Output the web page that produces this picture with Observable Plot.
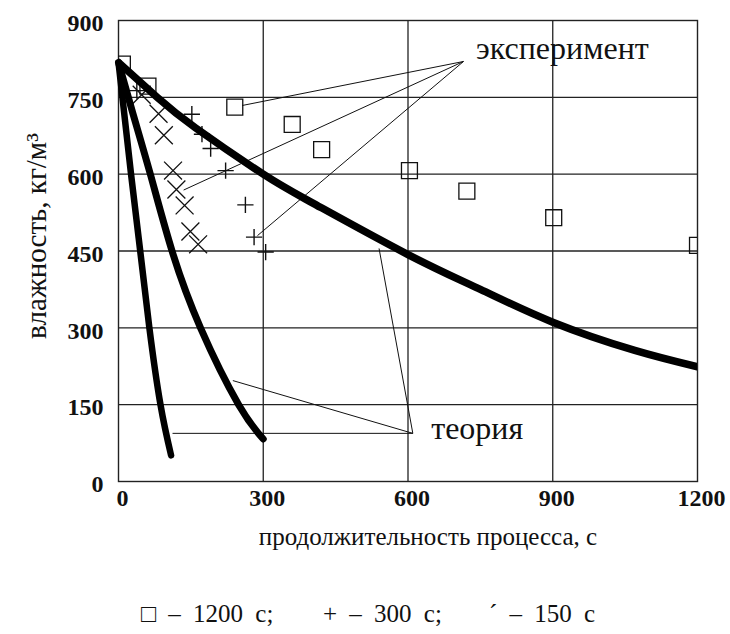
<!DOCTYPE html>
<html><head><meta charset="utf-8">
<script src="https://cdn.jsdelivr.net/npm/d3@7"></script>
<script src="https://cdn.jsdelivr.net/npm/@observablehq/plot@0.6"></script>
<style>
body{margin:0;background:#fff;}
#caption{position:relative;font-family:"Liberation Serif","DejaVu Serif","Noto Serif",serif;font-size:25px;line-height:32px;white-space:pre;word-spacing:6px;color:#111;height:36px}
#caption span{position:absolute;top:0}
</style></head><body>
<div id="chart"></div>
<div id="caption"></div>
<script>
// ---- data ----
const xTicks = [0, 300, 600, 900, 1200];
const yTicks = [0, 150, 300, 450, 600, 750, 900];
const xLabel = "продолжительность процесса, с";
const yLabel = "влажность, кг/м³";

// theory curves (time s, moisture kg/m3)
const theory1200 = [[0,818],[80,750],[160,690],[300,600],[400,545],[600,443],[750,375],[900,311],[1070,256],[1200,224]];
const theory300  = [[0,818],[30,718],[66,600],[111,450],[170,300],[249,150],[300,83]];
const theory150  = [[0,818],[26,600],[45,450],[64,300],[87,150],[109,51]];

// experiment points
const exp1200 = [[8,815],[61,772],[241,731],[360,697],[421,648],[603,607],[722,567],[902,515],[1200,461]];
const exp300  = [[38,763],[152,717],[173,678],[191,650],[222,607],[263,540],[281,477],[305,448]];
const exp150  = [[48,755],[83,718],[94,676],[113,607],[120,570],[137,539],[149,488],[165,463]];

// annotations (anchor in data units) and leader targets
const annotations = [
  {text: "эксперимент", x: 741, y: 825},
  {text: "теория", x: 648, y: 83}
];
const expLeaders = [[715,820,256,734],[715,820,135,569],[715,820,288,480]];
const theoryLeaders = [[610,94,540,455],[610,94,237,197],[610,94,112,94]];

const captionItems = [["□", "1200 с;"], ["+", "300 с;"], ["´", "150 с"]];

// ---- chart ----
const pts = a => a.map(([x, y]) => ({x, y}));
const lk = a => a.map(([x1, y1, x2, y2]) => ({x1, y1, x2, y2}));
const ink = "#111";
const fmt = d => String(d);

const chart = Plot.plot({
  width: 730, height: 598,
  marginLeft: 118, marginRight: 33, marginTop: 20, marginBottom: 117,
  x: {domain: [0, 1200]},
  y: {domain: [0, 900]},
  style: "font-family: 'Liberation Serif', 'DejaVu Serif', 'Noto Serif', serif; background: #fff; color: #111;",
  marks: [
    Plot.gridX(xTicks.slice(1, -1), {stroke: "#222", strokeOpacity: 1, strokeWidth: 1.3}),
    Plot.gridY(yTicks.slice(1, -1), {stroke: "#222", strokeOpacity: 1, strokeWidth: 1.3}),
    Plot.frame({stroke: "#222", strokeWidth: 1.4}),
    Plot.axisX(xTicks, {tickSize: 0, tickPadding: 7, fontSize: 24, fontWeight: "bold", dx: 4, tickFormat: fmt, label: null}),
    Plot.axisY(yTicks, {tickSize: 0, tickPadding: 15, fontSize: 24, fontWeight: "bold", dy: 3, tickFormat: fmt, label: null}),
    Plot.text([yLabel], {text: d => d, frameAnchor: "left", rotate: -90, textAnchor: "middle", lineAnchor: "bottom", dx: -73, dy: -15, fontSize: 29}),
    Plot.text([xLabel], {text: d => d, frameAnchor: "bottom", textAnchor: "middle", lineAnchor: "bottom", dx: 20, dy: 63, fontSize: 25}),
    Plot.link(lk(expLeaders), {x1: "x1", y1: "y1", x2: "x2", y2: "y2", stroke: ink, strokeWidth: 1}),
    Plot.link(lk(theoryLeaders), {x1: "x1", y1: "y1", x2: "x2", y2: "y2", stroke: ink, strokeWidth: 1}),
    Plot.dot(pts(exp1200), {x: "x", y: "y", symbol: "square", r: 9, fill: "none", stroke: ink, strokeWidth: 1.3, clip: true}),
    Plot.dot(pts(exp300), {x: "x", y: "y", symbol: "plus", r: 5.3, stroke: ink, strokeWidth: 1.4}),
    Plot.dot(pts(exp150), {x: "x", y: "y", symbol: "times", r: 8.2, stroke: ink, strokeWidth: 1.3}),
    Plot.line(pts(theory1200), {x: "x", y: "y", curve: "natural", stroke: "#000", strokeWidth: 7.5, clip: true}),
    Plot.line(pts(theory300), {x: "x", y: "y", curve: "natural", stroke: "#000", strokeWidth: 7, strokeLinecap: "round"}),
    Plot.line(pts(theory150), {x: "x", y: "y", curve: "natural", stroke: "#000", strokeWidth: 6.5, strokeLinecap: "round"}),
    Plot.text(annotations, {x: "x", y: "y", text: "text", textAnchor: "start", lineAnchor: "bottom", fontSize: 32})
  ]
});
document.getElementById("chart").appendChild(chart);

// caption: items start at fixed x offsets
const capStarts = [141, 323, 489];
const cap = document.getElementById("caption");
captionItems.forEach(([sym, lab], i) => {
  const s = document.createElement("span");
  s.style.left = capStarts[i] + "px";
  s.textContent = sym + " – " + lab;
  cap.appendChild(s);
});
</script>
</body></html>
